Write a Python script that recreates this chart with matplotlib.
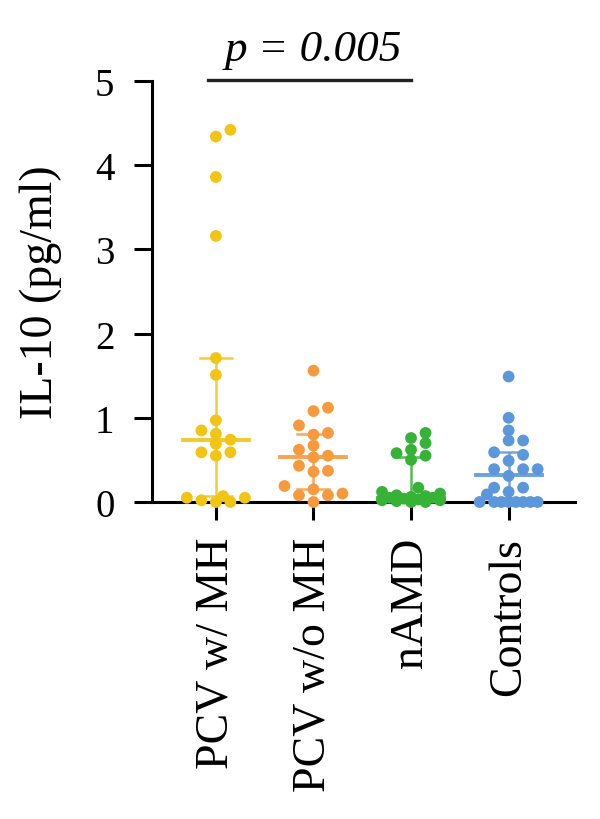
import numpy as np
import matplotlib
matplotlib.use('Agg')
import matplotlib.pyplot as plt

groups = ['PCV w/ MH', 'PCV w/o MH', 'nAMD', 'Controls']
colors = ['#F2C514', '#F79A3E', '#36B236', '#5B97DA']

pcv_mh = [4.42, 4.34, 3.86, 3.16, 1.71, 1.51, 0.97, 0.85, 0.81, 0.74, 0.69,
          0.59, 0.59, 0.55, 0.07, 0.05, 0.05, 0.02, 0.0, 0.0]
pcv_no_mh = [1.56, 1.12, 1.08, 0.91, 0.82, 0.80, 0.67, 0.62, 0.55, 0.53, 0.43,
             0.37, 0.36, 0.19, 0.15, 0.10, 0.08, 0.08, 0.0]
namd = [0.82, 0.76, 0.70, 0.62, 0.58, 0.55, 0.50, 0.17, 0.12, 0.10, 0.08, 0.07,
        0.06, 0.05, 0.05, 0.04, 0.03, 0.02, 0.02, 0.01, 0.0, 0.0]
controls = [1.49, 1.00, 0.85, 0.73, 0.73, 0.59, 0.56, 0.49, 0.39, 0.39, 0.39,
            0.31, 0.17, 0.17, 0.12, 0.09, 0.0, 0.0, 0.0, 0.0, 0.0, 0.0, 0.0, 0.0]
values = [pcv_mh, pcv_no_mh, namd, controls]

medians = [0.74, 0.54, 0.05, 0.32]
q1 = [0.07, 0.16, 0.0, 0.0]
q3 = [1.71, 0.81, 0.54, 0.59]

p_text = 'p = 0.005'
bracket = (0, 2)

plt.rcParams['font.family'] = ['Liberation Serif', 'DejaVu Serif']

fig = plt.figure(figsize=(6, 8.2), dpi=100)
ax = fig.add_axes([0.2533, 0.3866, 0.705, 0.5134])
ax.set_xlim(-0.655, 3.68)
ax.set_ylim(0, 5)

# pixel scale for the swarm layout
bb = ax.get_window_extent()
px_x = bb.width / (3.68 + 0.655)
px_y = bb.height / 5.0


def swarm(vals, d=9.5, step=7.25, maxw=36.0):
    ypx = np.array(vals) * px_y
    order = np.argsort(ypx)
    cands = []
    k = 0
    while k * step <= maxw:
        cands.extend([k * step] if k == 0 else [k * step, -k * step])
        k += 1
    coarse = [c for c in cands if abs(c / (2 * step) - round(c / (2 * step))) < 1e-6]
    fine = [c for c in cands if c not in coarse]
    cands = coarse + fine
    placed = []
    offs = np.zeros(len(vals))
    for i in order:
        best, bestd = None, -1
        for c in cands:
            md = min([np.hypot(c - px, ypx[i] - py) for px, py in placed] or [99])
            if md >= d:
                best = c
                break
            if md > bestd:
                best, bestd = c, md
        placed.append((best, ypx[i]))
        offs[i] = best
    return offs / px_x


for i, (vals, col) in enumerate(zip(values, colors)):
    offs = swarm(vals)
    ax.scatter(i + offs, vals, s=72, color=col, edgecolors='none', zorder=5, clip_on=False)
    ax.plot([i, i], [q1[i], q3[i]], color=col, lw=1.8, alpha=0.85, zorder=4, solid_capstyle='butt')
    cw = 16 / px_x
    ax.plot([i - cw, i + cw], [q3[i], q3[i]], color=col, lw=1.8, alpha=0.85, zorder=4)
    ax.plot([i - cw, i + cw], [q1[i], q1[i]], color=col, lw=1.8, alpha=0.85, zorder=4)
    mw = 33 / px_x
    ax.plot([i - mw, i + mw], [medians[i], medians[i]], color=col, lw=2.8, alpha=0.9, zorder=4)

for s in ['top', 'right']:
    ax.spines[s].set_visible(False)
for s in ['left', 'bottom']:
    ax.spines[s].set_linewidth(2.2)
    ax.spines[s].set_zorder(3)

ax.set_yticks([0, 1, 2, 3, 4, 5])
ax.set_xticks(range(len(groups)))
ax.set_xticklabels(groups, rotation=90)
ax.tick_params(axis='both', length=13, width=2.2)
ax.tick_params(axis='y', labelsize=28, pad=14)
ax.tick_params(axis='x', labelsize=33, pad=12)
ax.set_ylabel('IL-10 (pg/ml)', fontsize=33, labelpad=24)

# significance bracket
ext = 8 / px_x
ax.plot([bracket[0] - ext, bracket[1]], [5.01, 5.01], color='#222222', lw=2.4, clip_on=False)
ax.text(np.mean(bracket), 5.14, p_text, ha='center', va='bottom', fontsize=32.5,
        style='italic', clip_on=False)

fig.savefig('out.png', dpi=100)
